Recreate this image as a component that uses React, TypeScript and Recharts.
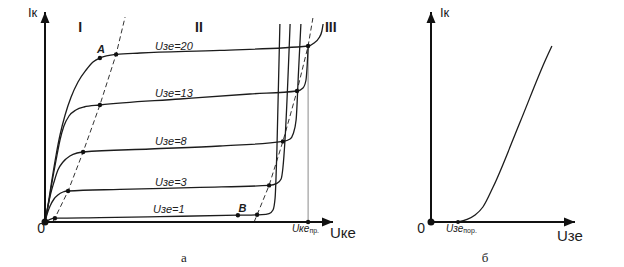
import React from "react";
import { LineChart, Line, XAxis, YAxis, ReferenceLine, ReferenceDot } from "recharts";

// а) output characteristics Iк(Uке), one curve per gate voltage
const uce1 = [0, 1.7, 3.3, 18.3, 38.3, 64.3, 72.3, 74.7, 76, 76.7, 77.3, 78.3];
const ic1 = [0, 1.3, 1.9, 2.2, 2.7, 3.4, 3.7, 4.2, 6, 12, 36, 99];

const uce3 = [0, 0.7, 1.7, 3, 4.3, 6, 7.7, 25, 51.7, 74.7, 77.3, 78.7, 79.3, 80, 81.7];
const ic3 = [0, 4, 8, 11.5, 13.5, 15, 15.5, 16.3, 17.3, 18.3, 19.3, 21.5, 27, 41, 99];

const uce8 = [0, 0.7, 1.7, 3, 4.3, 6, 8.3, 10.7, 12.7, 35, 58.3, 79.3, 81.7, 82.7, 83.7, 84.5, 85.3];
const ic8 = [0, 6, 13, 20, 26, 30, 33, 34.5, 35, 36.5, 38, 40.3, 41.5, 44, 51, 75, 99];

const uce13 = [0, 1, 2.3, 3.7, 5, 6.3, 8, 10.3, 13, 18.3, 45, 68.3, 84, 86, 87, 87.4, 87.7];
const ic13 = [0, 7.5, 19.5, 31, 41, 48, 53, 56, 57.5, 58.5, 61.5, 64, 65.5, 67, 71, 78.5, 87];

const uce20 = [0, 1, 2.3, 3.7, 5, 6.7, 8.7, 11, 13.7, 16, 18.3, 23.7, 31.7, 58.3, 87.7, 89.7, 91.3, 92.3, 92.7];
const ic20 = [0, 8.5, 21, 33.5, 43.5, 53.5, 62.5, 70, 76, 80, 82, 83.8, 84.5, 85.8, 88, 89.5, 92, 95.5, 99];

// boundaries of the regions (dashed)
const satUce = [2.7, 3.3, 7.7, 12.7, 18.3, 23.7, 26.7];
const satIc = [0.5, 1.9, 15.5, 35, 58.5, 83.8, 102.5];
const brkUce = [69.7, 70.7, 74.7, 79.3, 84, 87.7, 89.3];
const brkIc = [0, 3.6, 18.3, 40.3, 65.5, 88, 102];

// marked points
const dotUce = [3.3, 7.7, 12.7, 18.3, 23.7, 18.3, 64.3, 70.7, 74.7, 79.3, 84, 87.7, 87.7];
const dotIc = [1.9, 15.5, 35, 58.5, 83.8, 82, 3.4, 3.6, 18.3, 40.3, 65.5, 88, 0];
const uceBreakdown = 87.7;
const icAtBreakdown = 88;

// б) transfer characteristic Iк(Uзе)
const uge = [9, 12, 14.7, 17.3, 20.7, 29.7, 38.3, 40.3];
const icT = [0, 1.3, 3.5, 7.5, 17.5, 50, 81.5, 88];
const ugeThreshold = 9;

const pts = (xs: number[], ys: number[]) => xs.map((x, i) => ({ x, y: ys[i] }));

const curves = [
  { name: "Uзе=1", data: pts(uce1, ic1) },
  { name: "Uзе=3", data: pts(uce3, ic3) },
  { name: "Uзе=8", data: pts(uce8, ic8) },
  { name: "Uзе=13", data: pts(uce13, ic13) },
  { name: "Uзе=20", data: pts(uce20, ic20) },
];

const FONT = '"Liberation Sans", Arial, sans-serif';
const INK = "#1c1c1c";

const txt = (content: React.ReactNode, props: any = {}) => (p: any) => (
  <text x={p.cx} y={p.cy} fontFamily={FONT} fill={INK} fontSize={13} {...props}>
    {content}
  </text>
);

const arrowRight = (p: any) => (
  <path d={`M${p.cx},${p.cy} L${p.cx - 11},${p.cy - 4.5} L${p.cx - 11},${p.cy + 4.5} Z`} fill="#111" />
);
const arrowUp = (p: any) => (
  <path d={`M${p.cx},${p.cy} L${p.cx - 4.5},${p.cy + 11} L${p.cx + 4.5},${p.cy + 11} Z`} fill="#111" />
);

const curveLabel = { fontSize: 11, fontStyle: "italic" };

const leftLabels: { x: number; y: number; node: React.ReactNode; props?: any }[] = [
  { x: -5.7, y: 102.5, node: "Iк", props: { fontSize: 13 } },
  { x: 11.7, y: 95, node: "I", props: { fontSize: 14, fontWeight: "bold", textAnchor: "middle" } },
  { x: 51.3, y: 95, node: "II", props: { fontSize: 14, fontWeight: "bold", textAnchor: "middle" } },
  { x: 93.3, y: 95, node: "III", props: { fontSize: 14, fontWeight: "bold" } },
  { x: 18.7, y: 84.5, node: "A", props: { fontSize: 11, fontWeight: "bold", fontStyle: "italic", textAnchor: "middle" } },
  { x: 65.8, y: 5, node: "B", props: { fontSize: 11, fontWeight: "bold", fontStyle: "italic", textAnchor: "middle" } },
  { x: 36.7, y: 86, node: "Uзе=20", props: curveLabel },
  { x: 36.7, y: 62.5, node: "Uзе=13", props: curveLabel },
  { x: 36.7, y: 38.5, node: "Uзе=8", props: curveLabel },
  { x: 36.7, y: 18, node: "Uзе=3", props: curveLabel },
  { x: 36, y: 4.5, node: "Uзе=1", props: curveLabel },
  { x: -1.3, y: -5.5, node: "0", props: { fontSize: 14, textAnchor: "middle" } },
  {
    x: 82.3,
    y: -5,
    node: (
      <>
        <tspan fontStyle="italic" fontSize={10}>Uке</tspan>
        <tspan fontSize={7} dy={1}>пр.</tspan>
      </>
    ),
  },
  { x: 95, y: -8, node: "Uке", props: { fontSize: 15 } },
  { x: 46.3, y: -20, node: "а", props: { fontSize: 13, fontFamily: '"Liberation Serif", serif', textAnchor: "middle" } },
];

const rightLabels: { x: number; y: number; node: React.ReactNode; props?: any }[] = [
  { x: 3, y: 102.5, node: "Iк", props: { fontSize: 13 } },
  { x: -3.3, y: -5.5, node: "0", props: { fontSize: 14, textAnchor: "middle" } },
  {
    x: 5,
    y: -5,
    node: (
      <>
        <tspan fontStyle="italic" fontSize={10}>Uзе</tspan>
        <tspan fontSize={7} dy={1}>пор.</tspan>
      </>
    ),
  },
  { x: 42, y: -9.5, node: "Uзе", props: { fontSize: 15 } },
  { x: 18, y: -20, node: "б", props: { fontSize: 13, fontFamily: '"Liberation Serif", serif', textAnchor: "middle" } },
];

const MARGIN_Y = { top: 12, bottom: 45 };

export default function App() {
  return (
    <div style={{ position: "absolute", left: 0, top: 0, width: 624, height: 267, background: "#fff" }}>
      <div style={{ position: "absolute", left: 0, top: 0 }}>
        <LineChart width={360} height={267} margin={{ ...MARGIN_Y, left: 45, right: 27 }}>
          <XAxis hide type="number" dataKey="x" domain={[0, 96]} allowDataOverflow />
          <YAxis hide type="number" domain={[0, 105]} allowDataOverflow />
          <ReferenceLine
            segment={[{ x: uceBreakdown, y: 0 }, { x: uceBreakdown, y: icAtBreakdown }]}
            stroke="#8a8a8a"
            strokeWidth={1}
            ifOverflow="visible"
          />
          <Line data={pts(satUce, satIc)} dataKey="y" type="linear" stroke="#333" strokeWidth={1} strokeDasharray="5 3" dot={false} isAnimationActive={false} />
          <Line data={pts(brkUce, brkIc)} dataKey="y" type="linear" stroke="#333" strokeWidth={1} strokeDasharray="5 3" dot={false} isAnimationActive={false} />
          {curves.map((c) => (
            <Line key={c.name} name={c.name} data={c.data} dataKey="y" type="monotone" stroke={INK} strokeWidth={1.3} dot={false} isAnimationActive={false} />
          ))}
          <ReferenceLine y={0} stroke="#111" strokeWidth={2} ifOverflow="visible" />
          <ReferenceLine x={0} stroke="#111" strokeWidth={2} ifOverflow="visible" />
          <ReferenceDot x={96} y={0} shape={arrowRight} ifOverflow="visible" />
          <ReferenceDot x={0} y={105} shape={arrowUp} ifOverflow="visible" />
          {dotUce.map((x, i) => (
            <ReferenceDot key={`d${i}`} x={x} y={dotIc[i]} r={2.2} fill="#111" stroke="none" ifOverflow="visible" />
          ))}
          <ReferenceDot x={0} y={0} r={3.5} fill="#111" stroke="none" ifOverflow="visible" />
          {leftLabels.map((l, i) => (
            <ReferenceDot key={`l${i}`} x={l.x} y={l.y} shape={txt(l.node, l.props)} ifOverflow="visible" />
          ))}
        </LineChart>
      </div>
      <div style={{ position: "absolute", left: 380, top: 0 }}>
        <LineChart width={244} height={267} margin={{ ...MARGIN_Y, left: 51, right: 49 }}>
          <XAxis hide type="number" dataKey="x" domain={[0, 48]} allowDataOverflow />
          <YAxis hide type="number" domain={[0, 105]} allowDataOverflow />
          <Line data={pts(uge, icT)} dataKey="y" type="monotone" stroke={INK} strokeWidth={1.3} dot={false} isAnimationActive={false} />
          <ReferenceLine y={0} stroke="#111" strokeWidth={2} ifOverflow="visible" />
          <ReferenceLine x={0} stroke="#111" strokeWidth={2} ifOverflow="visible" />
          <ReferenceDot x={48} y={0} shape={arrowRight} ifOverflow="visible" />
          <ReferenceDot x={0} y={105} shape={arrowUp} ifOverflow="visible" />
          <ReferenceDot x={ugeThreshold} y={0} r={2} fill="#111" stroke="none" ifOverflow="visible" />
          <ReferenceDot x={0} y={0} r={3.5} fill="#111" stroke="none" ifOverflow="visible" />
          {rightLabels.map((l, i) => (
            <ReferenceDot key={`r${i}`} x={l.x} y={l.y} shape={txt(l.node, l.props)} ifOverflow="visible" />
          ))}
        </LineChart>
      </div>
    </div>
  );
}
